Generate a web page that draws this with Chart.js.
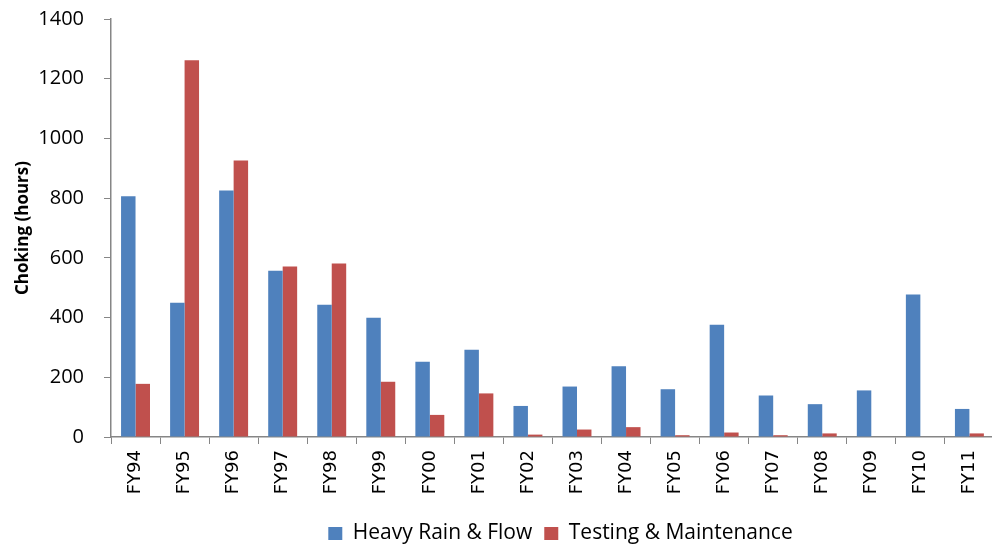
<!DOCTYPE html>
<html>
<head>
<meta charset="utf-8">
<script src="https://cdn.jsdelivr.net/npm/chart.js@4.4.1/dist/chart.umd.min.js"></script>
<style>
  html, body { margin: 0; padding: 0; background: #fff; overflow: hidden; }
  #wrap { width: 997px; height: 544px; }
</style>
</head>
<body>
<div id="wrap"><canvas id="chokingChart"></canvas></div>
<script>
// categories and values
const years = ['FY94', 'FY95', 'FY96', 'FY97', 'FY98', 'FY99', 'FY00', 'FY01', 'FY02',
  'FY03', 'FY04', 'FY05', 'FY06', 'FY07', 'FY08', 'FY09', 'FY10', 'FY11'];
const heavyRain = [806, 450, 826, 557, 443, 399, 252, 292, 104, 169, 237, 160, 376, 139, 110, 156, 477, 94];
const testing = [178, 1262, 926, 571, 581, 185, 74, 146, 8, 25, 33, 6, 15, 6, 12, 0, 0, 12];

const axisGray = '#868686';

// the legend in the picture sits centred on the plot and a bit lower
const legendShift = {
  id: 'legendShift',
  afterLayout(chart) {
    chart.legend.left += 62;
    chart.legend.right += 62;
    chart.legend.top += 10;
    chart.legend.bottom += 10;
  }
};

const ctx = document.getElementById('chokingChart').getContext('2d');
const chokingChart = new Chart(ctx, {
  type: 'bar',
  data: {
    labels: years,
    datasets: [{
      label: 'Heavy Rain & Flow',
      data: heavyRain,
      backgroundColor: '#4F81BD'
    }, {
      label: 'Testing & Maintenance',
      data: testing,
      backgroundColor: '#C0504D'
    }]
  },
  options: {
    responsive: true,
    maintainAspectRatio: false,
    animation: false,
    layout: {
      padding: { top: 19, right: 0, bottom: 0, left: 0 }
    },
    datasets: {
      bar: { categoryPercentage: 0.59, barPercentage: 1 }
    },
    plugins: {
      tooltip: { enabled: false },
      legend: {
        position: 'bottom',
        labels: {
          boxWidth: 14,
          boxHeight: 13,
          padding: 12,
          color: '#000',
          font: { family: 'Open Sans', size: 21 }
        }
      }
    },
    scales: {
      x: {
        afterFit: function(scale) { scale.height = 64; },
        grid: {
          offset: true,
          drawOnChartArea: false,
          tickLength: 7,
          color: axisGray
        },
        border: { color: axisGray, width: 1.5 },
        ticks: {
          minRotation: 90,
          maxRotation: 90,
          padding: 6,
          color: '#000',
          font: { family: 'DejaVu Sans', size: 18 }
        }
      },
      y: {
        min: 0,
        max: 1400,
        afterFit: function(scale) {
          scale.width = 111;
          scale.paddingTop = 0;
          scale.paddingBottom = 0;
        },
        grid: {
          drawOnChartArea: false,
          tickLength: 7,
          color: axisGray
        },
        border: { color: axisGray, width: 1.5 },
        ticks: {
          stepSize: 200,
          padding: 20,
          color: '#000',
          font: { family: 'Open Sans', size: 20, lineHeight: 1 },
          callback: function(value) { return String(value); }
        },
        title: {
          display: true,
          text: 'Choking (hours)',
          color: '#000',
          padding: { top: 13, bottom: 0 },
          font: { family: 'Open Sans', size: 17, weight: 'bold' }
        }
      }
    }
  },
  plugins: [legendShift]
});
</script>
</body>
</html>
